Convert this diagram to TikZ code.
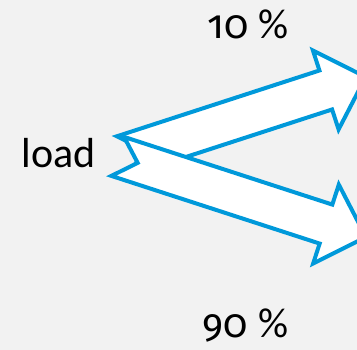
\documentclass[tikz,border=0pt]{standalone}
\usepackage{fontspec}
\setmainfont{Carlito}
\newfontfamily\numfont{Fira Sans}[Numbers=OldStyle]
\definecolor{bg}{RGB}{242,242,242}
\definecolor{arrowblue}{RGB}{0,153,218}
\begin{document}
\begin{tikzpicture}[x=1pt,y=-1pt,
  fatarrow/.style={draw=arrowblue,fill=white,line width=4pt,line join=miter},
  lbl/.style={font=\fontsize{42}{42}\selectfont,inner sep=0pt,anchor=base}]
\fill[bg] (0,0) rectangle (357,350);
\useasboundingbox (0,0) rectangle (357,350);
\clip (0,0) rectangle (357,350);
\coordinate (srcup) at (123.2,155.8);
\coordinate (srcdown) at (117.7,156.4);
% upper arrow (10 %)
\begin{scope}[shift={(srcup)},rotate=18]
  \draw[fatarrow] (0,-20.5) -- (213,-20.5) -- (213,-41.5) -- (255,0) -- (213,41.5) -- (213,20.5) -- (0,20.5) -- (21,0) -- cycle;
\end{scope}
% lower arrow (90 %)
\begin{scope}[shift={(srcdown)},rotate=-18]
  \draw[fatarrow] (0,-20.5) -- (219,-20.5) -- (219,-41.5) -- (261,0) -- (219,41.5) -- (219,20.5) -- (0,20.5) -- (21,0) -- cycle;
\end{scope}
\node[lbl] (load) at (58.5,168) {load};
\node[lbl] (ten) at (248,39) {{\numfont\fontsize{40}{40}\selectfont 10}\hspace{0.25em}\%};
\node[lbl] (ninety) at (245.5,338) {{\numfont\fontsize{40}{40}\selectfont 90}\hspace{0.25em}\%};
\end{tikzpicture}
\end{document}
